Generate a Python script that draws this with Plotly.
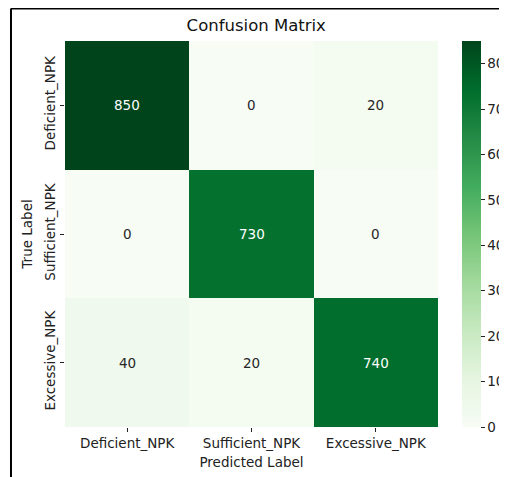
import plotly.graph_objects as go
import plotly.express as px

labels = ["Deficient_NPK", "Sufficient_NPK", "Excessive_NPK"]
matrix = [
    [850, 0, 20],
    [0, 730, 0],
    [40, 20, 740],
]
cbar_ticks = [0, 100, 200, 300, 400, 500, 600, 700, 800]

greens = px.colors.sequential.Greens
zmax = max(max(r) for r in matrix)
FS = 13.5
W, H = 499, 469  # page body has an 8px margin in the viewer

fig = go.Figure()
fig.add_trace(go.Heatmap(
    z=matrix, x=labels, y=labels,
    colorscale=greens, zmin=0, zmax=zmax,
    hoverinfo="skip",
    colorbar=dict(
        x=1.0643, xanchor="left", xpad=0, ypad=0,
        thickness=19, len=1.0, lenmode="fraction", y=0.5, yanchor="middle",
        outlinewidth=0,
        tickvals=cbar_ticks, ticks="outside", ticklen=4, tickwidth=1,
        tickcolor="#222", tickfont=dict(size=FS, color="#222", family="DejaVu Sans"),
    ),
))

for i, row in enumerate(matrix):
    for j, v in enumerate(row):
        fig.add_annotation(
            x=labels[j], y=labels[i], text=str(v), showarrow=False,
            font=dict(size=FS, family="DejaVu Sans",
                      color="white" if v > zmax / 2 else "#262626"),
        )

# figure border (partially cropped)
fig.add_shape(type="line", xref="paper", yref="paper",
              x0=-0.1448, x1=1.3, y0=1.0842, y1=1.0842,
              line=dict(color="black", width=2))
fig.add_shape(type="line", xref="paper", yref="paper",
              x0=-0.1448, x1=-0.1448, y0=1.0842, y1=-0.3,
              line=dict(color="black", width=2))

fig.update_layout(
    width=W, height=H,
    margin=dict(l=57, r=69, t=33, b=50, autoexpand=False),
    paper_bgcolor="white", plot_bgcolor="white",
    font=dict(family="DejaVu Sans", color="#222", size=FS),
    title=dict(text="Confusion Matrix", x=0.4975, xanchor="center",
               y=1 - 17 / H, yanchor="middle", font=dict(size=16.5, color="#111")),
    xaxis=dict(title=dict(text="Predicted Label", standoff=7, font=dict(size=FS)),
               ticks="outside", ticklen=4, tickcolor="#222", showgrid=False,
               zeroline=False, showline=False),
    yaxis=dict(title=dict(text="True Label", standoff=5, font=dict(size=FS)),
               autorange="reversed", tickangle=-90,
               ticks="outside", ticklen=4, tickcolor="#222", showgrid=False,
               zeroline=False, showline=False),
)

fig.write_html("out.html")
